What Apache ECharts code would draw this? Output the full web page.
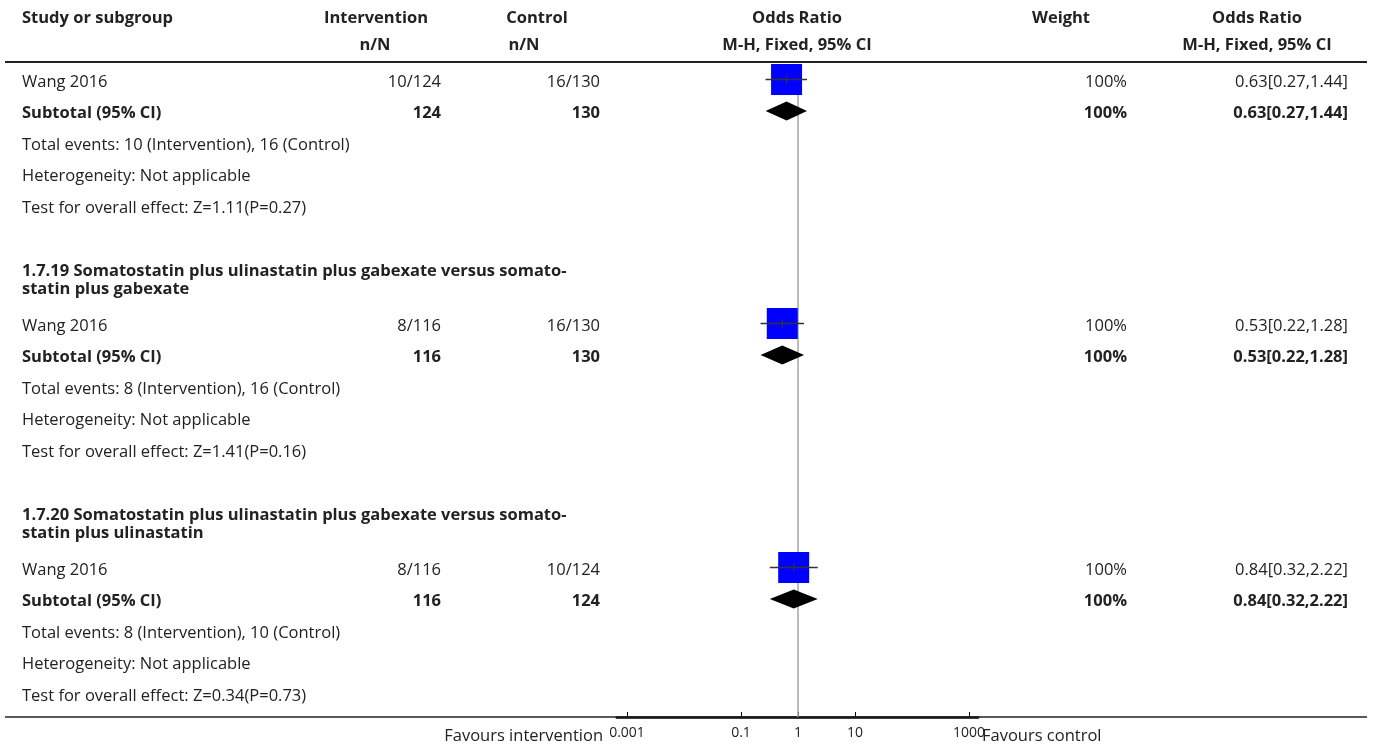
<!DOCTYPE html>
<html><head><meta charset="utf-8">
<script src="https://cdn.jsdelivr.net/npm/echarts@6/dist/echarts.min.js"></script>
<style>html,body{margin:0;padding:0;background:#fff}#c{width:1375px;height:747px}</style>
</head><body><div id="c"></div>
<script>
// ---------------- data ----------------
const subgroupTitles = [
  '',
  '1.7.19 Somatostatin plus ulinastatin plus gabexate versus somato-\nstatin plus gabexate',
  '1.7.20 Somatostatin plus ulinastatin plus gabexate versus somato-\nstatin plus ulinastatin'
];
const studyNames = ['Wang 2016', 'Wang 2016', 'Wang 2016'];
const intEvents = [10, 8, 8];
const intTotals = [124, 116, 116];
const ctlEvents = [16, 16, 10];
const ctlTotals = [130, 130, 124];
const oddsRatios = [0.63, 0.53, 0.84];
const ciLower = [0.27, 0.22, 0.32];
const ciUpper = [1.44, 1.28, 2.22];
const weights = [100, 100, 100];
const heterogeneity = ['Not applicable', 'Not applicable', 'Not applicable'];
const zStats = ['1.11', '1.41', '0.34'];
const pValues = ['0.27', '0.16', '0.73'];
const axisTickValues = [0.001, 0.1, 1, 10, 1000];
const headerLine1 = ['Study or subgroup', 'Intervention', 'Control', 'Odds Ratio', 'Weight', 'Odds Ratio'];
const headerLine2 = ['', 'n/N', 'n/N', 'M-H, Fixed, 95% CI', '', 'M-H, Fixed, 95% CI'];
const favoursLabels = ['Favours intervention', 'Favours control'];

// ---------------- layout ----------------
const W = 1375, H = 747;
const FONT = '"Open Sans"';
const FS = 16.5;
const TXT = '#222';
const ROW0 = 79.5, PITCH = 31.5;
const GROUP_ROWS = 244 / PITCH;
const AXIS_Y = 717;
const DEC = 57;               // px per decade
const LOG_MIN = -3.18, LOG_MAX = 3.16;
const X_ONE = 798;            // px of OR = 1
const plotLeft = X_ONE + LOG_MIN * DEC;
const plotWidth = (LOG_MAX - LOG_MIN) * DEC;
const rowOfPx = px => (px - ROW0) / PITCH;

const COL = { name: 22, intv: 441, ctl: 600, wt: 1127, orTxt: 1348 };
const HCOL = [
  { x: 22, a: 'left' }, { x: 376, a: 'center' }, { x: 537, a: 'center' },
  { x: 797, a: 'center' }, { x: 1061, a: 'center' }, { x: 1257, a: 'center' }
];
const HCOL2 = [
  null, { x: 375, a: 'center' }, { x: 524, a: 'center' },
  { x: 797, a: 'center' }, null, { x: 1257, a: 'center' }
];

const fmtCI = i => `${oddsRatios[i].toFixed(2)}[${ciLower[i].toFixed(2)},${ciUpper[i].toFixed(2)}]`;

// build text rows
const texts = [];
headerLine1.forEach((t, i) => { if (t) texts.push({ x: HCOL[i].x, row: rowOfPx(18.5), text: t, align: HCOL[i].a, bold: true }); });
headerLine2.forEach((t, i) => { if (t) texts.push({ x: HCOL2[i].x, row: rowOfPx(45.5), text: t, align: HCOL2[i].a, bold: true }); });

const studyRows = [], subtotalRows = [];
const TXT_DY = 2.5 / PITCH;
studyNames.forEach((name, g) => {
  const base = g * GROUP_ROWS;
  studyRows.push(base);
  subtotalRows.push(base + 1);
  const r = k => base + k + TXT_DY;
  if (subgroupTitles[g]) texts.push({ x: COL.name, row: base - 1.37, text: subgroupTitles[g], align: 'left', bold: true, lh: 17.5 });
  texts.push({ x: COL.name, row: r(0), text: name, align: 'left' });
  texts.push({ x: COL.intv, row: r(0), text: `${intEvents[g]}/${intTotals[g]}`, align: 'right' });
  texts.push({ x: COL.ctl, row: r(0), text: `${ctlEvents[g]}/${ctlTotals[g]}`, align: 'right' });
  texts.push({ x: COL.wt, row: r(0), text: `${weights[g]}%`, align: 'right' });
  texts.push({ x: COL.orTxt, row: r(0), text: fmtCI(g), align: 'right' });
  texts.push({ x: COL.name, row: r(1), text: 'Subtotal (95% CI)', align: 'left', bold: true });
  texts.push({ x: COL.intv, row: r(1), text: String(intTotals[g]), align: 'right', bold: true });
  texts.push({ x: COL.ctl, row: r(1), text: String(ctlTotals[g]), align: 'right', bold: true });
  texts.push({ x: COL.wt, row: r(1), text: `${weights[g]}%`, align: 'right', bold: true });
  texts.push({ x: COL.orTxt, row: r(1), text: fmtCI(g), align: 'right', bold: true });
  texts.push({ x: COL.name, row: r(2), text: `Total events: ${intEvents[g]} (Intervention), ${ctlEvents[g]} (Control)`, align: 'left' });
  texts.push({ x: COL.name, row: r(3), text: `Heterogeneity: ${heterogeneity[g]}`, align: 'left' });
  texts.push({ x: COL.name, row: r(4), text: `Test for overall effect: Z=${zStats[g]}(P=${pValues[g]})`, align: 'left' });
});
texts.push({ x: 603, row: rowOfPx(736), text: favoursLabels[0], align: 'right' });
texts.push({ x: 982, row: rowOfPx(736), text: favoursLabels[1], align: 'left' });

const yMin0 = -0.5, yMax0 = rowOfPx(AXIS_Y);
const gridTop0 = ROW0 + yMin0 * PITCH;

const chart = echarts.init(document.getElementById('c'), null, { renderer: 'canvas', width: W, height: H });
chart.setOption({
  animation: false,
  backgroundColor: '#fff',
  grid: [
    { left: plotLeft, width: plotWidth, top: gridTop0, height: AXIS_Y - gridTop0 },
    { left: 0, width: W, top: 0, height: H }
  ],
  xAxis: [
    {
      type: 'log', logBase: 10, gridIndex: 0, position: 'bottom',
      min: Math.pow(10, LOG_MIN), max: Math.pow(10, LOG_MAX),
      axisLine: { show: true, onZero: false, lineStyle: { color: '#000', width: 2.5 } },
      axisTick: { show: true, inside: true, length: 5, customValues: axisTickValues, lineStyle: { color: '#000', width: 1 } },
      axisLabel: { show: true, customValues: axisTickValues, margin: 9, color: TXT, fontSize: 14, fontFamily: FONT,
        formatter: v => String(Number(Number(v).toPrecision(6))) },
      splitLine: { show: false }, minorTick: { show: false }
    },
    { type: 'value', gridIndex: 1, min: 0, max: W, show: false }
  ],
  yAxis: [
    { type: 'value', gridIndex: 0, inverse: true, min: yMin0, max: yMax0, show: false },
    { type: 'value', gridIndex: 1, inverse: true, min: rowOfPx(0), max: rowOfPx(H), show: false }
  ],
  graphic: [
    { type: 'line', shape: { x1: 5, y1: 62, x2: 1367, y2: 62 }, style: { stroke: '#222', lineWidth: 2 }, z: 1 },
    { type: 'line', shape: { x1: 5, y1: AXIS_Y, x2: 1367, y2: AXIS_Y }, style: { stroke: '#222', lineWidth: 1.5 }, z: 1 }
  ],
  series: [
    { // line of no effect
      type: 'custom', xAxisIndex: 0, yAxisIndex: 0, z: 1, silent: true,
      data: [[1]],
      renderItem: (params, api) => {
        const a = api.coord([api.value(0), yMin0]);
        const b = api.coord([api.value(0), yMax0]);
        return { type: 'line', shape: { x1: a[0], y1: a[1], x2: b[0], y2: b[1] }, style: { stroke: '#a6a6a6', lineWidth: 1.5 } };
      }
    },
    { // study squares
      type: 'scatter', xAxisIndex: 0, yAxisIndex: 0, z: 2, silent: true,
      symbol: 'rect', symbolSize: (v, p) => 31 * Math.sqrt(weights[p.dataIndex] / 100),
      itemStyle: { color: '#0000FF', opacity: 1 },
      data: oddsRatios.map((v, i) => [v, studyRows[i]])
    },
    { // CI lines
      type: 'custom', xAxisIndex: 0, yAxisIndex: 0, z: 3, silent: true,
      data: oddsRatios.map((v, i) => [v, ciLower[i], ciUpper[i], studyRows[i]]),
      renderItem: (params, api) => {
        const c = api.coord([api.value(0), api.value(3)]);
        const l = api.coord([api.value(1), api.value(3)]);
        const r = api.coord([api.value(2), api.value(3)]);
        const st = { stroke: '#333', lineWidth: 1.3 };
        return { type: 'group', children: [
          { type: 'line', shape: { x1: l[0], y1: l[1], x2: r[0], y2: r[1] }, style: st },
          { type: 'line', shape: { x1: c[0], y1: c[1] - 4, x2: c[0], y2: c[1] + 4 }, style: st }
        ] };
      }
    },
    { // subtotal diamonds
      type: 'custom', xAxisIndex: 0, yAxisIndex: 0, z: 3, silent: true,
      data: oddsRatios.map((v, i) => [v, ciLower[i], ciUpper[i], subtotalRows[i]]),
      renderItem: (params, api) => {
        const c = api.coord([api.value(0), api.value(3)]);
        const l = api.coord([api.value(1), api.value(3)]);
        const r = api.coord([api.value(2), api.value(3)]);
        const h = 9.5;
        return { type: 'polygon', shape: { points: [[l[0], l[1]], [c[0], c[1] - h], [r[0], r[1]], [c[0], c[1] + h]] }, style: { fill: '#000' } };
      }
    },
    { // table text
      type: 'custom', xAxisIndex: 1, yAxisIndex: 1, z: 4, silent: true,
      data: texts.map(t => [t.x, t.row]),
      renderItem: (params, api) => {
        const t = texts[params.dataIndex];
        const p = api.coord([api.value(0), api.value(1)]);
        return { type: 'text', x: p[0], y: p[1], style: {
          text: t.text, align: t.align, verticalAlign: 'middle', fill: TXT,
          font: `${t.bold ? 'bold ' : ''}${FS}px ${FONT}`, lineHeight: t.lh || FS * 1.2
        } };
      }
    }
  ]
});
</script>
</body></html>
